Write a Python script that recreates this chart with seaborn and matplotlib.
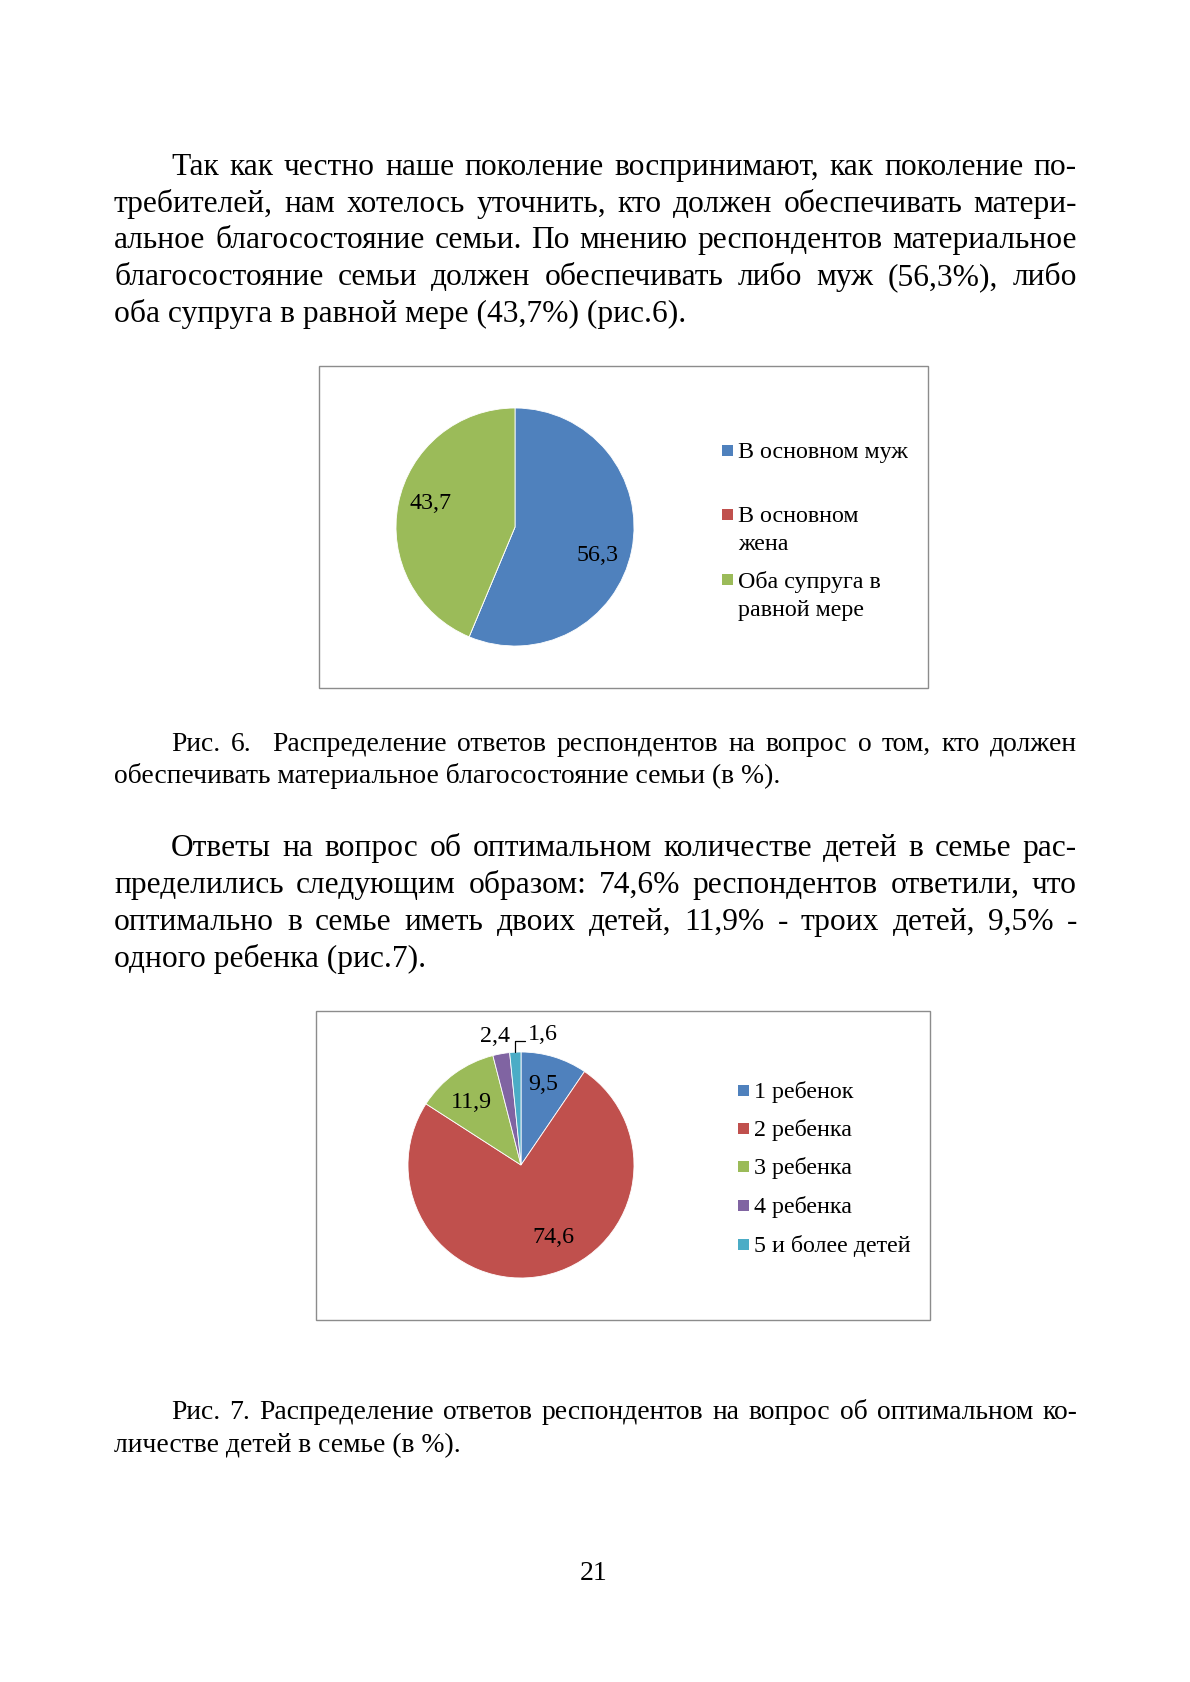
import numpy as np
import matplotlib
matplotlib.use("Agg")
import matplotlib.pyplot as plt
from matplotlib.patches import Rectangle
import seaborn as sns

# ---------------- data ----------------
pie1_categories = ["В основном муж", "В основном жена", "Оба супруга в равной мере"]
pie1_legend_labels = ["В основном муж", "В основном\nжена", "Оба супруга в\nравной мере"]
pie1_values = [56.3, 0.0, 43.7]
pie1_value_labels = ["56,3", "", "43,7"]

pie2_categories = ["1 ребенок", "2 ребенка", "3 ребенка", "4 ребенка", "5 и более детей"]
pie2_values = [9.5, 74.6, 11.9, 2.4, 1.6]
pie2_value_labels = ["9,5", "74,6", "11,9", "2,4", "1,6"]

colors = ["#4F81BD", "#C0504D", "#9BBB59", "#8064A2", "#4BACC6"]

para1 = [
    "Так как честно наше поколение воспринимают, как поколение по-",
    "требителей, нам хотелось уточнить, кто должен обеспечивать матери-",
    "альное благосостояние семьи. По мнению респондентов материальное",
    "благосостояние семьи должен обеспечивать либо муж (56,3%), либо",
    "оба супруга в равной мере (43,7%) (рис.6).",
]
caption1 = [
    "Рис. 6.  Распределение ответов респондентов на вопрос о том, кто должен",
    "обеспечивать материальное благосостояние семьи (в %).",
]
para2 = [
    "Ответы на вопрос об оптимальном количестве детей в семье рас-",
    "пределились следующим образом: 74,6% респондентов ответили, что",
    "оптимально в семье иметь двоих детей, 11,9% - троих детей, 9,5% -",
    "одного ребенка (рис.7).",
]
caption2 = [
    "Рис. 7. Распределение ответов респондентов на вопрос об оптимальном ко-",
    "личестве детей в семье (в %).",
]
page_number = "21"

# ---------------- style ----------------
sns.set_theme(style="white")
plt.rcParams['font.family'] = ['Liberation Serif', 'DejaVu Serif']
plt.rcParams['text.color'] = 'black'

W, H = 1190, 1683
fig = plt.figure(figsize=(W / 100, H / 100), dpi=100)
fig.patch.set_facecolor("white")
page = fig.add_axes([0, 0, 1, 1])
page.set_xlim(0, W)
page.set_ylim(H, 0)
page.axis("off")
renderer = fig.canvas.get_renderer()

LEFT, RIGHT, INDENT = 114, 1077, 171
MAIN_FS, CAP_FS, CHART_FS = 22.7, 19.9, 17.3


def draw_line(text, x0, x1, y, size, justify):
    if not justify:
        page.text(x0, y, text, fontsize=size, ha="left", va="baseline")
        return
    words = text.split(" ")
    objs = [page.text(0, y, w, fontsize=size, ha="left", va="baseline") for w in words]
    widths = [o.get_window_extent(renderer).width if w else 0.0 for o, w in zip(objs, words)]
    gap = (x1 - x0 - sum(widths)) / (len(words) - 1)
    x = x0
    for o, w in zip(objs, widths):
        o.set_x(x)
        x += w + gap


def draw_paragraph(lines, ys, size, justify_last=False):
    for i, (line, y) in enumerate(zip(lines, ys)):
        x0 = INDENT if i == 0 else LEFT
        last = i == len(lines) - 1
        draw_line(line, x0, RIGHT, y, size, justify=(not last) or justify_last)


draw_paragraph(para1, [175, 212, 248, 285, 322], MAIN_FS)
draw_paragraph(caption1, [751, 783], CAP_FS)
draw_paragraph(para2, [856, 893, 930, 967], MAIN_FS)
draw_paragraph(caption2, [1419, 1452], CAP_FS)
page.text(594, 1580, page_number, fontsize=CAP_FS, ha="center", va="baseline")

# chart frames
for (x0, y0, x1, y1) in [(319, 367, 928, 689), (316, 1012, 930, 1321)]:
    page.add_patch(Rectangle((x0, y0), x1 - x0, y1 - y0, fill=False,
                             edgecolor="#8C8C8C", linewidth=1.0))


def pie_axes(cx, cy, r):
    ax = fig.add_axes([(cx - r) / W, 1 - (cy + r) / H, 2 * r / W, 2 * r / H])
    return ax


def draw_pie(ax, values, labels, label_r, label_dang):
    wedges, _ = ax.pie(values, colors=colors[:len(values)], startangle=90,
                       counterclock=False,
                       wedgeprops=dict(edgecolor="white", linewidth=0.6))
    ax.set_xlim(-1, 1)
    ax.set_ylim(-1, 1)
    ax.set_aspect("equal")
    ax.axis("off")
    mids = []
    for w, lab, rr, da in zip(wedges, labels, label_r, label_dang):
        m = (w.theta1 + w.theta2) / 2.0
        mids.append(m)
        if not lab or rr is None:
            continue
        a = np.deg2rad(m + da)
        ax.text(rr * np.cos(a), rr * np.sin(a), lab, fontsize=CHART_FS,
                ha="center", va="center", clip_on=False)
    return wedges, mids


# ---- chart 1 ----
ax1 = pie_axes(515, 528, 119)
draw_pie(ax1, pie1_values, pie1_value_labels, [0.73, None, 0.74], [-7, 0, -5])

leg1_rows = [452, 516, 581]
for lab, col, y in zip(pie1_legend_labels, colors, leg1_rows):
    page.add_patch(Rectangle((722, y - 6), 11, 11, facecolor=col, edgecolor="none"))
    page.text(738, y - 10, lab, fontsize=CHART_FS, ha="left", va="top", linespacing=1.42)

# ---- chart 2 ----
ax2 = pie_axes(521, 1166, 113)
wedges2, mids2 = draw_pie(ax2, pie2_values, pie2_value_labels,
                          [0.75, 0.70, 0.71, 1.165, None], [2, 13, 2, 1.3, 0])
# leader for the smallest slice
m = np.deg2rad(mids2[4])
sx, sy = np.cos(m), np.sin(m)
ax2.plot([sx, sx, sx + 0.085], [sy, 1.1, 1.1], color="black", lw=0.9, clip_on=False)
ax2.text(sx + 0.11, 1.16, pie2_value_labels[4], fontsize=CHART_FS,
         ha="left", va="center", clip_on=False)

leg2_rows = [1092, 1130, 1168, 1207, 1246]
for lab, col, y in zip(pie2_categories, colors, leg2_rows):
    page.add_patch(Rectangle((738, y - 6), 11, 11, facecolor=col, edgecolor="none"))
    page.text(754, y, lab, fontsize=CHART_FS, ha="left", va="center")

fig.savefig("out.png", dpi=100, facecolor="white")
